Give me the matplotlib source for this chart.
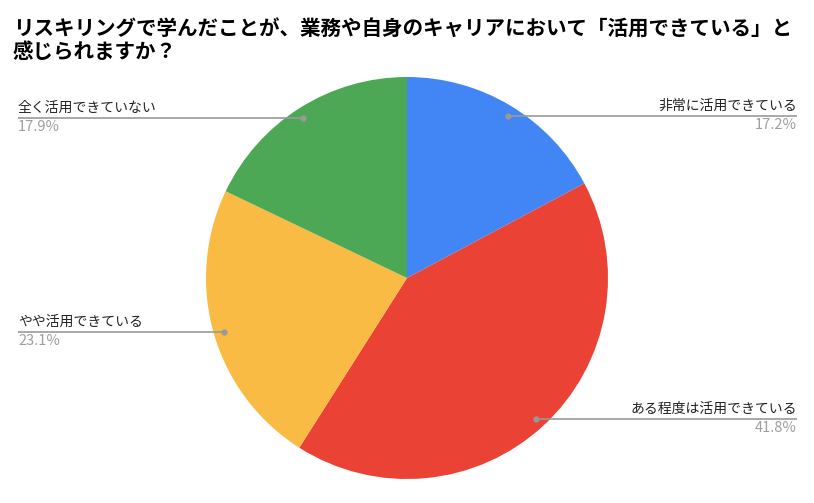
import matplotlib.pyplot as plt
import numpy as np

plt.rcParams['font.family'] = ['Noto Sans CJK JP', 'DejaVu Sans']

# data
title = 'リスキリングで学んだことが、業務や自身のキャリアにおいて「活用できている」と\n感じられますか？'
labels = ['非常に活用できている', 'ある程度は活用できている', 'やや活用できている', '全く活用できていない']
values = [17.2, 41.8, 23.1, 17.9]
colors = ['#4285F4', '#EA4335', '#F9BB43', '#4CA855']

# label anchor: (side, line y in px)
label_side = ['right', 'right', 'left', 'left']
label_y = [116, 419, 332, 118]

W, H = 814, 503
fig = plt.figure(figsize=(W / 100, H / 100), dpi=100)
ax = fig.add_axes([0, 0, 1, 1])

cx, cy, R = 407, H - 278, 201
wedges, _ = ax.pie(values, colors=colors, startangle=90, counterclock=False,
                   center=(cx, cy), radius=R, frame=True,
                   wedgeprops=dict(linewidth=0))
ax.set_xlim(0, W)
ax.set_ylim(0, H)
ax.set_aspect('equal')
ax.axis('off')

for w, lab, val, side, ly in zip(wedges, labels, values, label_side, label_y):
    ang = np.deg2rad((w.theta1 + w.theta2) / 2)
    # dot sits on the slice at the label line height
    y = H - ly
    dy = y - cy
    dx = np.sqrt(max((0.95 * R) ** 2 - dy ** 2, 0)) * np.sign(np.cos(ang))
    px = cx + dx
    if side == 'right':
        x_end = 797
        ha = 'right'
    else:
        x_end = 18
        ha = 'left'
    ax.plot([px, x_end], [y, y], color='#999999', lw=1.2, solid_capstyle='butt')
    ax.plot(px, y, 'o', color='#999999', ms=3.5)
    ax.text(x_end, y + 3, lab, ha=ha, va='bottom', fontsize=10, color='#222222')
    ax.text(x_end, y - 2, f'{val:.1f}%', ha=ha, va='top', fontsize=10.5, color='#9E9E9E')

fig.text(13 / W, 1 - 19 / H, title, ha='left', va='top', fontsize=14.8,
         fontweight='bold', color='#000000', linespacing=1.05)

fig.savefig('out.png', dpi=100)
